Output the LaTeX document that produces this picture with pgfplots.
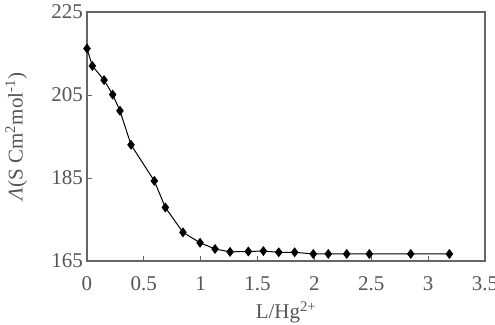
\documentclass[border=0pt]{standalone}
\usepackage{pgfplots}
\pgfplotsset{compat=1.18}
\usepackage{fontspec}
\setmainfont{Liberation Serif}
\definecolor{txt}{HTML}{555555}
\definecolor{frame}{HTML}{666666}
\begin{document}
\fontsize{21}{24}\selectfont
\begin{tikzpicture}
\begin{axis}[name=ax,
  scale only axis, width=398pt, height=249pt,
  xmin=0, xmax=3.5, ymin=165, ymax=225,
  xtick={0,0.5,...,3.5}, ytick={165,185,205,225},
  tick pos=left, tick align=inside,
  major tick length=5pt,
  axis line style={frame, line width=1.8pt},
  every tick/.style={frame, line width=1pt},
  tick label style={font=\fontsize{21}{24}\selectfont, text=txt},
  /pgf/number format/assume math mode=true,
  xticklabel style={yshift=-8pt},
  yticklabel style={xshift=3pt},
  xlabel={L/Hg\textsuperscript{2+}},
  ylabel={\textit{Λ}(S Cm\textsuperscript{2}mol\textsuperscript{-1})},
  label style={font=\fontsize{21}{24}\selectfont, text=txt},
  xlabel style={yshift=3pt},
  ylabel style={yshift=10pt},
]
\addplot[black, line width=1pt, mark=diamond*, mark size=4.2pt] coordinates {
(0,216.2) (0.047,212) (0.15,208.6) (0.226,205.1) (0.29,201.2) (0.387,193)
(0.592,184.3) (0.689,177.9) (0.844,171.9) (0.994,169.4) (1.126,167.9)
(1.258,167.2) (1.419,167.3) (1.551,167.4) (1.686,167.1) (1.826,167.1)
(1.99,166.7) (2.122,166.7) (2.284,166.7) (2.483,166.7) (2.847,166.7) (3.187,166.7)
};
\end{axis}
\pgfresetboundingbox
\path (ax.south west) ++(-87pt,-63pt) rectangle ++(495pt,324pt);
\end{tikzpicture}
\end{document}
